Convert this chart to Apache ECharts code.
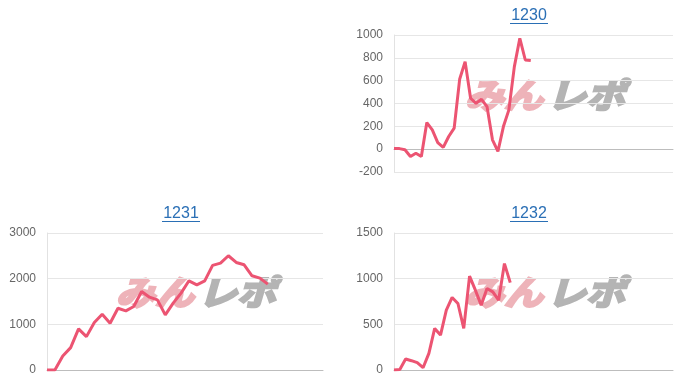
<!DOCTYPE html>
<html>
<head>
<meta charset="utf-8">
<script src="https://cdn.jsdelivr.net/npm/echarts@6/dist/echarts.min.js"></script>
<style>
html,body{margin:0;padding:0;background:#fff;}
#chart{width:700px;height:386px;}
</style>
</head>
<body>
<div id="chart"></div>
<script>
// ---- data ----
const titles = ['1230', '1231', '1232'];
const categoryCounts = [52, 36, 49];
const values1230 = [5, 5, -5, -64, -35, -64, 233, 169, 58, 15, 111, 184, 612, 767, 446, 402, 437, 373, 82, -20, 198, 344, 723, 971, 781, 776];
const values1231 = [0, 0, 307, 490, 900, 731, 1039, 1222, 1024, 1353, 1295, 1390, 1719, 1595, 1536, 1207, 1463, 1683, 1953, 1865, 1953, 2290, 2341, 2502, 2355, 2304, 2063, 2012, 1880];
const values1232 = [0, 5, 120, 102, 80, 25, 182, 455, 382, 655, 794, 728, 455, 1027, 874, 710, 892, 855, 764, 1165, 957];
const yMin = [-200, 0, 0];
const yMax = [1000, 3000, 1500];
const yInterval = [200, 1000, 500];

const seriesValues = [values1230, values1231, values1232];
const categories = categoryCounts.map(n => Array.from({length: n}, (_, i) => String(i + 1)));

// ---- layout ----
const grids = [
  {left: 394, right: 27, top: 35, bottom: 214},
  {left: 47, right: 377, top: 233, bottom: 16},
  {left: 394, right: 27, top: 233, bottom: 16}
];
const titlePos = [
  {x: 529, y: 8},
  {x: 181, y: 206},
  {x: 529, y: 206}
];
const markPos = [
  {x: 546, y: 95},
  {x: 197, y: 292},
  {x: 546, y: 292}
];
const LINE = '#ec5472';
const FONT = '"Liberation Sans", Arial, sans-serif';
const MARK_RED = '#eeb3b9';
const MARK_GRAY = '#b4b4b4';

const chart = echarts.init(document.getElementById('chart'), null, {renderer: 'canvas'});

const graphics = [];
markPos.forEach(p => {
  graphics.push({
    type: 'group', x: p.x, y: p.y, z: 0, silent: true,
    children: [
      {type: 'text', x: -3, y: 0, scaleX: 1.15,
       style: {text: 'みん', font: 'italic bold 34px "Noto Sans CJK JP"', fill: MARK_RED,
               stroke: MARK_RED, lineWidth: 2.5, align: 'right', verticalAlign: 'middle'}},
      {type: 'text', x: 1, y: 0, scaleX: 1.15,
       style: {text: 'レポ', font: 'italic bold 34px "Noto Sans CJK JP"', fill: MARK_GRAY,
               stroke: MARK_GRAY, lineWidth: 2.5, align: 'left', verticalAlign: 'middle'}}
    ]
  });
});
titlePos.forEach((p, i) => {
  graphics.push({
    type: 'text', x: p.x, y: p.y, z: 10,
    style: {text: titles[i], font: '16px ' + FONT, fill: '#2a6fb5', align: 'center', verticalAlign: 'top'}
  });
  graphics.push({
    type: 'line', z: 10,
    shape: {x1: p.x - 19, y1: p.y + 15.5, x2: p.x + 19, y2: p.y + 15.5},
    style: {stroke: '#2a6fb5', lineWidth: 1}
  });
});

const option = {
  animation: false,
  backgroundColor: '#fff',
  grid: grids,
  graphic: graphics,
  xAxis: grids.map((g, i) => ({
    type: 'category', gridIndex: i, data: categories[i], boundaryGap: false,
    axisLine: {show: true, onZero: true, lineStyle: {color: '#bdbdbd', width: 1}},
    axisTick: {show: false}, axisLabel: {show: false}, splitLine: {show: false}
  })),
  yAxis: grids.map((g, i) => ({
    type: 'value', gridIndex: i, min: yMin[i], max: yMax[i], interval: yInterval[i],
    axisLine: {show: true, lineStyle: {color: '#e2e2e2'}},
    axisTick: {show: false},
    axisLabel: {color: '#666', fontSize: 12, fontFamily: FONT, margin: 11, formatter: v => String(v)},
    splitLine: {lineStyle: {color: '#e6e6e6'}}
  })),
  series: seriesValues.map((v, i) => ({
    type: 'line', xAxisIndex: i, yAxisIndex: i, data: v,
    showSymbol: false, symbol: 'none', z: 5,
    lineStyle: {color: LINE, width: 3}
  }))
};
chart.setOption(option);
</script>
</body>
</html>
